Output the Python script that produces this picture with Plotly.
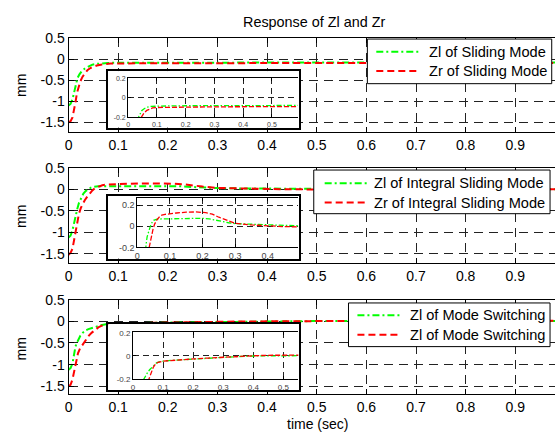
import plotly.graph_objects as go

FONT = "Arial, 'Liberation Sans', sans-serif"
W, H = 555, 437

# ---------------- data ----------------
# Sliding mode
t_sm_l = [0, 0.004, 0.008, 0.011, 0.014, 0.018, 0.022, 0.027, 0.033, 0.04, 0.048, 0.057, 0.068, 0.08, 0.1,
          0.15, 0.2, 0.3, 0.4, 0.5, 0.6, 0.7, 0.8, 0.9, 1.0]
z_sm_l = [-1.1, -1.06, -0.95, -0.8, -0.6, -0.45, -0.36, -0.28, -0.22, -0.17, -0.13, -0.11, -0.095, -0.088, -0.085,
          -0.083, -0.082, -0.08, -0.08, -0.08, -0.078, -0.078, -0.078, -0.078, -0.078]
t_sm_r = [0, 0.004, 0.008, 0.011, 0.014, 0.017, 0.02, 0.024, 0.028, 0.033, 0.038, 0.044, 0.05, 0.057, 0.065,
          0.075, 0.085, 0.1, 0.15, 0.2, 0.3, 0.4, 0.5, 0.6, 0.7, 0.8, 0.9, 1.0]
z_sm_r = [-1.5, -1.47, -1.38, -1.22, -1.02, -0.8, -0.65, -0.52, -0.42, -0.33, -0.26, -0.21, -0.18, -0.15, -0.13,
          -0.115, -0.105, -0.1, -0.097, -0.095, -0.093, -0.092, -0.09, -0.09, -0.09, -0.09, -0.09, -0.09]

# Integral sliding mode
t_ism_l = [0, 0.004, 0.008, 0.012, 0.015, 0.018, 0.021, 0.024, 0.027, 0.03, 0.035, 0.04, 0.045, 0.05, 0.06,
           0.08, 0.1, 0.15, 0.2, 0.22, 0.25, 0.28, 0.3, 0.35, 0.4, 0.45, 0.5, 0.6, 0.7, 0.8, 0.9, 1.0]
z_ism_l = [-1.12, -1.08, -0.95, -0.72, -0.56, -0.44, -0.32, -0.24, -0.17, -0.1, -0.04, 0.0, 0.035, 0.055, 0.068,
           0.07, 0.07, 0.072, 0.075, 0.07, 0.05, 0.033, 0.025, 0.017, 0.012, 0.008, 0.004, 0.0, 0.0, 0.0, 0.0, 0.0]
t_ism_r = [0, 0.004, 0.008, 0.012, 0.015, 0.018, 0.021, 0.025, 0.029, 0.033, 0.038, 0.043, 0.048, 0.053, 0.06,
           0.068, 0.075, 0.085, 0.1, 0.12, 0.15, 0.18, 0.21, 0.23, 0.25, 0.27, 0.3, 0.35, 0.4, 0.45, 0.5, 0.6,
           0.7, 0.8, 0.9, 1.0]
z_ism_r = [-1.52, -1.48, -1.38, -1.15, -0.95, -0.75, -0.57, -0.43, -0.33, -0.25, -0.17, -0.09, -0.03, 0.02, 0.06,
           0.09, 0.105, 0.112, 0.115, 0.125, 0.133, 0.135, 0.128, 0.115, 0.085, 0.06, 0.028, 0.012, 0.002, -0.004,
           -0.006, -0.004, -0.002, 0.0, 0.0, 0.0]

# Mode switching
t_ms_l = [0, 0.004, 0.008, 0.01, 0.012, 0.014, 0.017, 0.02, 0.024, 0.029, 0.034, 0.04, 0.047, 0.055, 0.065,
          0.078, 0.09, 0.1, 0.13, 0.16, 0.2, 0.25, 0.3, 0.35, 0.4, 0.45, 0.5, 0.6, 0.7, 0.8, 0.9, 1.0]
z_ms_l = [-1.12, -1.08, -0.97, -0.85, -0.68, -0.58, -0.49, -0.41, -0.33, -0.26, -0.21, -0.18, -0.15, -0.12, -0.09,
          -0.06, -0.05, -0.045, -0.038, -0.033, -0.028, -0.02, -0.012, -0.005, 0.0, 0.004, 0.008, 0.01, 0.01,
          0.01, 0.01, 0.01]
t_ms_r = [0, 0.004, 0.008, 0.011, 0.013, 0.016, 0.019, 0.023, 0.027, 0.031, 0.036, 0.041, 0.047, 0.053, 0.06,
          0.067, 0.075, 0.083, 0.1, 0.13, 0.16, 0.2, 0.25, 0.3, 0.35, 0.4, 0.45, 0.5, 0.6, 0.7, 0.8, 0.9, 1.0]
z_ms_r = [-1.5, -1.47, -1.34, -1.18, -1.05, -0.87, -0.74, -0.63, -0.56, -0.49, -0.41, -0.33, -0.26, -0.2, -0.14,
          -0.1, -0.07, -0.055, -0.045, -0.038, -0.032, -0.026, -0.018, -0.01, -0.003, 0.002, 0.006, 0.01, 0.012,
          0.012, 0.012, 0.012, 0.012]

names = [("Zl of Sliding Mode", "Zr of Sliding Mode"),
         ("Zl of Integral Sliding Mode", "Zr of Integral Sliding Mode"),
         ("Zl of Mode Switching", "Zl of Mode Switching")]

x_ticks = [0, 0.1, 0.2, 0.3, 0.4, 0.5, 0.6, 0.7, 0.8, 0.9]
x_tick_labels = ["0", "0.1", "0.2", "0.3", "0.4", "0.5", "0.6", "0.7", "0.8", "0.9"]
y_ticks = [0.5, 0, -0.5, -1, -1.5]
y_tick_labels = ["0.5", "0", "-0.5", "-1", "-1.5"]
in_y_ticks = [-0.2, 0, 0.2]
in_y_labels = ["-0.2", "0", "0.2"]
in_x_ticks = [0, 0.1, 0.2, 0.3, 0.4, 0.5]
in_x_labels = ["0", "0.1", "0.2", "0.3", "0.4", "0.5"]

series = [(t_sm_l, z_sm_l, t_sm_r, z_sm_r),
          (t_ism_l, z_ism_l, t_ism_r, z_ism_r),
          (t_ms_l, z_ms_l, t_ms_r, z_ms_r)]

# ---------------- layout geometry (pixels) ----------------
def fx(p):
    return p / W

def fy(p):
    return 1 - p / H

main_px = [(31, 128, [-1.73, 0.5]), (164.5, 262.7, [-1.71, 0.5]), (300.7, 398.3, [-1.69, 0.5])]
frame_px = [(105, 297.5, 65, 123.3), (105, 297.5, 193.5, 258.3), (105, 297.5, 325.7, 394)]
inset_px = [(125, 296, 71.7, 112.5, [0, 0.59], [-0.2, 0.21], 7),
            (134.3, 296.5, 195.5, 246.7, [0, 0.494], [-0.2, 0.27], 9),
            (130, 296.5, 334.3, 382.3, [0, 0.55], [-0.2, 0.206], 8)]
# legend box: left, right, top, bottom, row1 y, row2 y, sample x0, sample x1, text x
legend_px = [(366, 551.7, 32, 78, 45, 65, 375, 418, 425.7),
             (312, 550, 167, 212, 180.5, 200.5, 323, 366, 370.7),
             (347, 550, 304, 349, 316.7, 336.7, 356, 400, 406.7)]

GREEN = "#00ff00"
RED = "#ff0000"
DASH_L = "7px,3px,2px,3px"
DASH_R = "7px,4px"

fig = go.Figure()
layout = dict(width=W, height=H, margin=dict(l=0, r=0, t=0, b=0),
              paper_bgcolor="white", plot_bgcolor="white", showlegend=False,
              font=dict(family=FONT, size=14, color="black"))

shapes = []
annotations = []

for i in range(3):
    tl, zl, tr, zr = series[i]
    ax = i + 1
    xs = "" if ax == 1 else str(ax)
    fig.add_trace(go.Scatter(x=tl, y=zl, mode="lines", name=names[i][0],
                             line=dict(color=GREEN, width=2, dash=DASH_L),
                             xaxis="x" + xs, yaxis="y" + xs))
    fig.add_trace(go.Scatter(x=tr, y=zr, mode="lines", name=names[i][1],
                             line=dict(color=RED, width=2, dash=DASH_R),
                             xaxis="x" + xs, yaxis="y" + xs))
    top, bot, yr = main_px[i]
    layout["xaxis" + xs] = dict(domain=[fx(65), 1], range=[0, 0.98], anchor="y" + xs,
                                tickmode="array", tickvals=x_ticks, ticktext=x_tick_labels,
                                ticks="inside", ticklen=5, tickcolor="black",
                                showline=True, linecolor="black", linewidth=1, mirror="ticks",
                                showgrid=True, gridcolor="#222", gridwidth=1, griddash="9px,6px",
                                zeroline=False, tickfont=dict(size=14, color="black", family=FONT))
    layout["yaxis" + xs] = dict(domain=[fy(bot), fy(top)], range=yr, anchor="x" + xs,
                                tickmode="array", tickvals=y_ticks, ticktext=y_tick_labels,
                                ticks="inside", ticklen=5, tickcolor="black",
                                showline=True, linecolor="black", linewidth=1,
                                showgrid=True, gridcolor="#222", gridwidth=1, griddash="9px,6px",
                                zeroline=False, tickfont=dict(size=14, color="black", family=FONT))
    # legend box drawn as shapes + text
    bl, br, bt, bb, r1, r2, sx0, sx1, tx = legend_px[i]
    shapes.append(dict(type="rect", xref="paper", yref="paper", x0=fx(bl), x1=fx(br), y0=fy(bb), y1=fy(bt),
                       line=dict(color="black", width=1), fillcolor="white", layer="above"))
    for ry, col, dsh, nm in [(r1, GREEN, DASH_L, names[i][0]), (r2, RED, DASH_R, names[i][1])]:
        shapes.append(dict(type="line", xref="paper", yref="paper", x0=fx(sx0), x1=fx(sx1),
                           y0=fy(ry), y1=fy(ry), line=dict(color=col, width=2, dash=dsh), layer="above"))
        annotations.append(dict(text=nm, x=fx(tx), y=fy(ry), xref="paper", yref="paper",
                                xanchor="left", yanchor="middle", showarrow=False,
                                font=dict(size=14.6, family=FONT, color="black")))

# frames (axes 4-6)
for i in range(3):
    ax = i + 4
    s = str(ax)
    x0, x1, y0, y1 = frame_px[i]
    fig.add_trace(go.Scatter(x=[0.5], y=[0.5], mode="markers", marker=dict(opacity=0),
                             showlegend=False, hoverinfo="skip", xaxis="x" + s, yaxis="y" + s))
    layout["xaxis" + s] = dict(domain=[fx(x0), fx(x1)], range=[0, 1], anchor="y" + s,
                               showline=True, mirror=True, linecolor="black", linewidth=2,
                               showgrid=False, zeroline=False, showticklabels=False, ticks="")
    layout["yaxis" + s] = dict(domain=[fy(y1), fy(y0)], range=[0, 1], anchor="x" + s,
                               showline=True, mirror=True, linecolor="black", linewidth=2,
                               showgrid=False, zeroline=False, showticklabels=False, ticks="")

# insets (axes 7-9)
for i in range(3):
    ax = i + 7
    s = str(ax)
    tl, zl, tr, zr = series[i]
    x0, x1, y0, y1, xr, yr, fs = inset_px[i]
    fig.add_trace(go.Scatter(x=tl, y=zl, mode="lines", showlegend=False,
                             line=dict(color=GREEN, width=1.3, dash="5px,2px,1.5px,2px"),
                             xaxis="x" + s, yaxis="y" + s))
    fig.add_trace(go.Scatter(x=tr, y=zr, mode="lines", showlegend=False,
                             line=dict(color=RED, width=1.3, dash="5px,2px"),
                             xaxis="x" + s, yaxis="y" + s))
    layout["xaxis" + s] = dict(domain=[fx(x0), fx(x1)], range=xr, anchor="y" + s,
                               tickmode="array", tickvals=in_x_ticks, ticktext=in_x_labels,
                               ticks="inside", ticklen=3, tickcolor="black",
                               showline=True, linecolor="black", linewidth=1, mirror="ticks",
                               showgrid=True, gridcolor="#222", gridwidth=1, griddash="6px,4px",
                               zeroline=False, tickfont=dict(size=fs, color="#444", family=FONT))
    layout["yaxis" + s] = dict(domain=[fy(y1), fy(y0)], range=yr, anchor="x" + s,
                               tickmode="array", tickvals=in_y_ticks, ticktext=in_y_labels,
                               ticks="inside", ticklen=3, tickcolor="black",
                               showline=True, linecolor="black", linewidth=1,
                               showgrid=True, gridcolor="#222", gridwidth=1, griddash="6px,4px",
                               zeroline=False, tickfont=dict(size=fs, color="#444", family=FONT))

annotations += [
    dict(text="Response of Zl and Zr", x=fx(313), y=fy(14.5), xref="paper", yref="paper",
         xanchor="center", yanchor="middle", showarrow=False, font=dict(size=14.4, family=FONT)),
    dict(text="time (sec)", x=fx(315.5), y=fy(429), xref="paper", yref="paper",
         xanchor="center", yanchor="middle", showarrow=False, font=dict(size=14, family=FONT)),
]
for yc in [79.5, 214.5, 351]:
    annotations.append(dict(text="mm", x=fx(17), y=fy(yc), xref="paper", yref="paper",
                            xanchor="center", yanchor="middle", textangle=-90, showarrow=False,
                            font=dict(size=14, family=FONT)))
layout["annotations"] = annotations
layout["shapes"] = shapes

fig.update_layout(**layout)
fig.write_html("out.html")
